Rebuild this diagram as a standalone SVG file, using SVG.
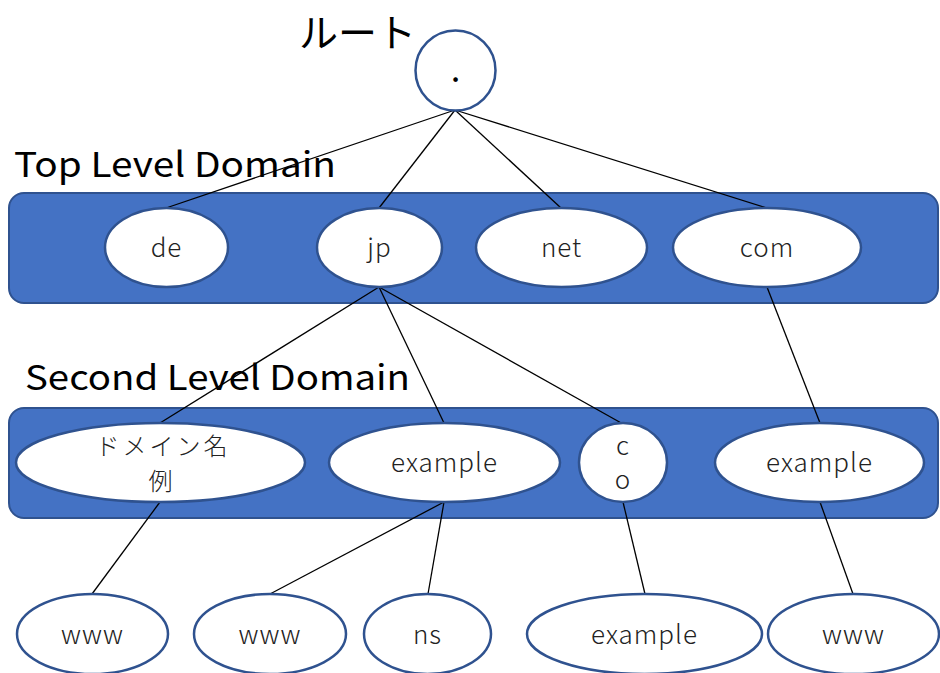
<svg xmlns="http://www.w3.org/2000/svg" width="940" height="673" viewBox="0 0 940 673">
  <style>
    .band { fill: #4472C4; stroke: #2F528F; stroke-width: 2; }
    .node { fill: #FFFFFF; stroke: #2F528F; stroke-width: 2.5; }
    .label { font-family: "Noto Sans CJK JP", "Noto Sans", sans-serif; font-size: 26px; font-weight: 300; letter-spacing: 1px; fill: #222222; text-anchor: middle; }
    .title { font-family: "Noto Sans CJK JP", "Noto Sans", sans-serif; fill: #000000; }
    .edges line { stroke: #000000; stroke-width: 1.3; }
  </style>

  <!-- level bands -->
  <rect class="band" x="9" y="193" width="929" height="110" rx="15"/>
  <rect class="band" x="9" y="408" width="929" height="110" rx="15"/>

  <!-- titles -->
  <text class="title" x="299" y="47" font-size="39">ルート</text>
  <text class="title" x="14" y="177" font-size="34" textLength="322" lengthAdjust="spacingAndGlyphs">Top Level Domain</text>
  <text class="title" x="25" y="390" font-size="34" textLength="385" lengthAdjust="spacingAndGlyphs">Second Level Domain</text>

  <!-- connectors -->
  <g class="edges">
    <line x1="455" y1="110" x2="166" y2="208"/>
    <line x1="455" y1="110" x2="379" y2="208"/>
    <line x1="455" y1="110" x2="561" y2="208"/>
    <line x1="455" y1="110" x2="767" y2="208"/>
    <line x1="379" y1="287" x2="160" y2="423"/>
    <line x1="379" y1="287" x2="444" y2="423"/>
    <line x1="379" y1="287" x2="623" y2="424"/>
    <line x1="767" y1="287" x2="820" y2="423"/>
    <line x1="160" y1="502" x2="92" y2="594"/>
    <line x1="444" y1="502" x2="270" y2="594"/>
    <line x1="444" y1="502" x2="428" y2="594"/>
    <line x1="623" y1="502" x2="645" y2="594"/>
    <line x1="820" y1="502" x2="853" y2="594"/>
  </g>

  <!-- root -->
  <g id="root">
    <circle class="node" cx="455.5" cy="70.5" r="40"/>
    <text class="label" x="455.5" y="82" style="font-size:25px;font-weight:700;letter-spacing:0;fill:#000000">.</text>
  </g>

  <!-- top level domains -->
  <g id="tld-de">
    <ellipse class="node" cx="166.5" cy="247.5" rx="61.5" ry="39.5"/>
    <text class="label" x="166.5" y="257">de</text>
  </g>
  <g id="tld-jp">
    <ellipse class="node" cx="379.5" cy="247.5" rx="62.5" ry="39.5"/>
    <text class="label" x="379.5" y="257">jp</text>
  </g>
  <g id="tld-net">
    <ellipse class="node" cx="561.5" cy="247.5" rx="85.5" ry="39.5"/>
    <text class="label" x="561.5" y="257">net</text>
  </g>
  <g id="tld-com">
    <ellipse class="node" cx="767" cy="247.5" rx="94" ry="39.5"/>
    <text class="label" x="767" y="257">com</text>
  </g>

  <!-- second level domains -->
  <g id="sld-domain-example">
    <ellipse class="node" cx="160.5" cy="462.5" rx="144.5" ry="39.5"/>
    <text class="label" x="163" y="455" style="font-size:24px;letter-spacing:3px">ドメイン名</text>
    <text class="label" x="161" y="490" style="font-size:24px">例</text>
  </g>
  <g id="sld-example-jp">
    <ellipse class="node" cx="444.5" cy="462.5" rx="115.5" ry="39.5"/>
    <text class="label" x="444.5" y="472">example</text>
  </g>
  <g id="sld-co">
    <ellipse class="node" cx="623" cy="462.5" rx="44" ry="39.5"/>
    <text class="label" x="623" y="455">c</text>
    <text class="label" x="623" y="489">o</text>
  </g>
  <g id="sld-example-com">
    <ellipse class="node" cx="819.5" cy="462.5" rx="104.5" ry="39.5"/>
    <text class="label" x="819.5" y="472">example</text>
  </g>

  <!-- third level -->
  <g id="www-domain-example">
    <ellipse class="node" cx="92.5" cy="634" rx="75.5" ry="40"/>
    <text class="label" x="92.5" y="644">www</text>
  </g>
  <g id="www-example-jp">
    <ellipse class="node" cx="270" cy="634" rx="76" ry="40"/>
    <text class="label" x="270" y="644">www</text>
  </g>
  <g id="ns-example-jp">
    <ellipse class="node" cx="427.5" cy="634" rx="63.5" ry="40"/>
    <text class="label" x="427.5" y="644">ns</text>
  </g>
  <g id="example-co">
    <ellipse class="node" cx="644.5" cy="634" rx="117.5" ry="40"/>
    <text class="label" x="644.5" y="644">example</text>
  </g>
  <g id="www-example-com">
    <ellipse class="node" cx="853.5" cy="634" rx="85.5" ry="40"/>
    <text class="label" x="853.5" y="644">www</text>
  </g>
</svg>
